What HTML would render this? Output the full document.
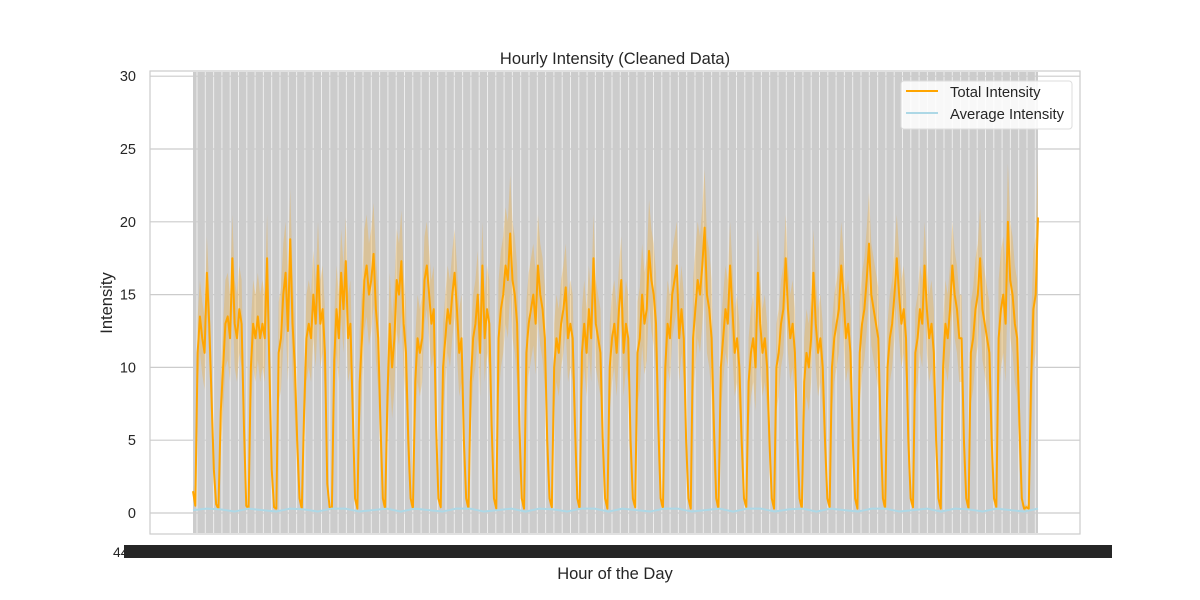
<!DOCTYPE html>
<html><head><meta charset="utf-8"><style>
html,body{margin:0;padding:0;background:#fff;}
svg{display:block;font-family:"Liberation Sans",Arial,sans-serif;}
</style></head><body>
<svg id="chart" width="1200" height="600" viewBox="0 0 1200 600">
<rect x="0" y="0" width="1200" height="600" fill="#fff"/>
<rect x="150" y="71" width="930" height="463" fill="#fff" stroke="#cccccc" stroke-width="1.2"/>
<g id="grid"></g>
<g id="series"></g>
<g id="yticks"></g>
<text x="615" y="64" text-anchor="middle" font-size="16.5" fill="#262626">Hourly Intensity (Cleaned Data)</text>
<text x="112" y="303" text-anchor="middle" font-size="16.5" fill="#262626" transform="rotate(-90 112 303)">Intensity</text>
<text x="615" y="579" text-anchor="middle" font-size="16.5" fill="#262626">Hour of the Day</text>
<rect x="124" y="545" width="988" height="13" fill="#262626"/>
<text x="113" y="557" font-size="14" fill="#262626">44</text>
<g>
<rect x="901" y="81" width="171" height="48" rx="3" fill="#fff" fill-opacity="0.85" stroke="#dddddd"/>
<line x1="906" y1="91" x2="938" y2="91" stroke="orange" stroke-width="2"/>
<text x="950" y="97" font-size="14.8" fill="#262626">Total Intensity</text>
<line x1="906" y1="113" x2="938" y2="113" stroke="lightblue" stroke-width="2"/>
<text x="950" y="119" font-size="14.8" fill="#262626">Average Intensity</text>
</g>
</svg>
<script>
const yTicks=[0,5,10,15,20,25,30];
const totalIntensity=[
1.5,0.5,11,13.5,12,11,16.5,13,8,3,0.6,0.3,
7,10,13,13.5,12,17.5,13,12,14,13,6,0.5,
0.3,10,13,12,13.5,12,13,12,17.5,10,3,0.4,
0.3,11,12,15,16.5,12.5,18.8,13,10,5,1,0.3,
7,12,13,12,15,13,17,13,14,11,2,0.4,
0.3,10.5,14,12,16.5,14,17.3,12,13,7,1,0.3,
9,12,16,17,15,16,17.8,14,12,6,1,0.3,
8,13,10,12,16,15,17.3,13,11,5,1,0.3,
9,12,11,12,16,17,15,13,14,6,1,0.4,
10,12,14,13,15,16.5,14,11,12,5,1,0.3,
9,12,13,15,11,17,12,14,13,6,1,0.3,
12,14,15,17,16,19.2,16,15,13,6,1,0.3,
11,13,14,15,13,17,15,14,12,5,1,0.4,
10,12,11,13,14,15.5,12,13,12,6,1,0.3,
11,13,11,14,12,17.5,13,12,11,5,1,0.3,
10,12,13,11,14,16,11,13,12,5,1,0.4,
11,12,15,13,14,18,16,15,13,6,1,0.3,
10,13,12,15,16,17,12,14,12,5,1,0.3,
12,14,16,15,17,19.6,15,14,12,6,1,0.3,
10,12,14,13,17,14,11,12,10,5,1,0.4,
9,11,12,10,16.5,13,11,12,10,5,1,0.3,
10,11,13,14,17.5,14,12,13,11,5,1,0.3,
9,11,10,12,16.5,13,11,12,10,5,1,0.4,
10,12,13,14,17,15,12,13,11,5,1,0.3,
11,13,14,16,18.5,15,14,13,12,6,1,0.3,
10,12,13,15,17.5,15,13,14,12,5,1,0.4,
11,12,14,13,17,14,12,13,11,5,1,0.3,
10,13,12,14,17,15,14,12,12,5,1,0.3,
11,12,14,15,17.5,14,13,12,11,5,1,0.4,
12,14,15,13,20,16,15,13,12,6,1,0.3,
0.4,0.3,9,14,15,20.3
];
const bandHalf=[2.5,3,3,3.5,3,3,3.5,3.5,3,3,3,4,3.5,3,3,3,3.5,3,4,3,3,3,3,3,3.5,3,3,3,3.5,4,4];
const avgIntensity=[0.2,0.3,0.25,0.1,0.3,0.2,0.1,0.3,0.25,0.1,0.3,0.3,0.1,0.2,0.3,0.1,0.3,0.2,0.1,0.3,0.3,0.1,0.2,0.3,0.1,0.3,0.25,0.1,0.3,0.3,0.1,0.3,0.2,0.1,0.3,0.3,0.1,0.2,0.3,0.1,0.3,0.3,0.1,0.25,0.3,0.1,0.3,0.2,0.1,0.3,0.3,0.1,0.2,0.3,0.1,0.3,0.25,0.1,0.3,0.2,0.1,0.3];
const NS="http://www.w3.org/2000/svg";
const X0=193,X1=1038;
function yS(v){return 513-v*14.56;}
function xS(i,n){return X0+i*(X1-X0)/(n-1);}
const grid=document.getElementById('grid');
const bg=document.createElementNS(NS,'rect');
bg.setAttribute('x',X0);bg.setAttribute('y',72);bg.setAttribute('width',X1-X0);bg.setAttribute('height',461);bg.setAttribute('fill','#cccccc');


grid.appendChild(bg);
for(let x=X0+4;x<X1;x+=8.3){
const l=document.createElementNS(NS,'line');
l.setAttribute('x1',x);l.setAttribute('x2',x);l.setAttribute('y1',72);l.setAttribute('y2',533);l.setAttribute('stroke','#eeeeee');l.setAttribute('stroke-width','1');


grid.appendChild(l);
}
const yt=document.getElementById('yticks');
yTicks.forEach(t=>{
const l=document.createElementNS(NS,'line');
l.setAttribute('x1',150);l.setAttribute('x2',1080);l.setAttribute('y1',yS(t));l.setAttribute('y2',yS(t));l.setAttribute('stroke','#cccccc');l.setAttribute('stroke-width','1.2');


grid.appendChild(l);
const tx=document.createElementNS(NS,'text');
tx.setAttribute('x',136);tx.setAttribute('y',yS(t)+5);tx.setAttribute('text-anchor','end');tx.setAttribute('font-size','14.5');tx.setAttribute('fill','#262626');
tx.textContent=t;


yt.appendChild(tx);
});
const s=document.getElementById('series');
const n=totalIntensity.length;
let up=[],lo=[];
totalIntensity.forEach((v,i)=>{const h=bandHalf[Math.min(bandHalf.length-1,Math.floor(i/12))]*Math.min(1,v/8);up.push(xS(i,n)+','+yS(v+h));lo.push(xS(i,n)+','+yS(Math.max(0,v-h)));});
const band=document.createElementNS(NS,'polygon');
band.setAttribute('points',up.concat(lo.reverse()).join(' '));band.setAttribute('fill','orange');band.setAttribute('fill-opacity','0.25');


s.appendChild(band);
const line=document.createElementNS(NS,'polyline');
line.setAttribute('points',totalIntensity.map((v,i)=>xS(i,n)+','+yS(v)).join(' '));
line.setAttribute('fill','none');line.setAttribute('stroke','orange');line.setAttribute('stroke-width','2');line.setAttribute('stroke-linejoin','round');


s.appendChild(line);
const m=avgIntensity.length;
const av=document.createElementNS(NS,'polyline');
av.setAttribute('points',avgIntensity.map((v,i)=>xS(i,m)+','+yS(v)).join(' '));
av.setAttribute('fill','none');av.setAttribute('stroke','lightblue');av.setAttribute('stroke-width','2');


s.appendChild(av);
</script>
</body></html>
